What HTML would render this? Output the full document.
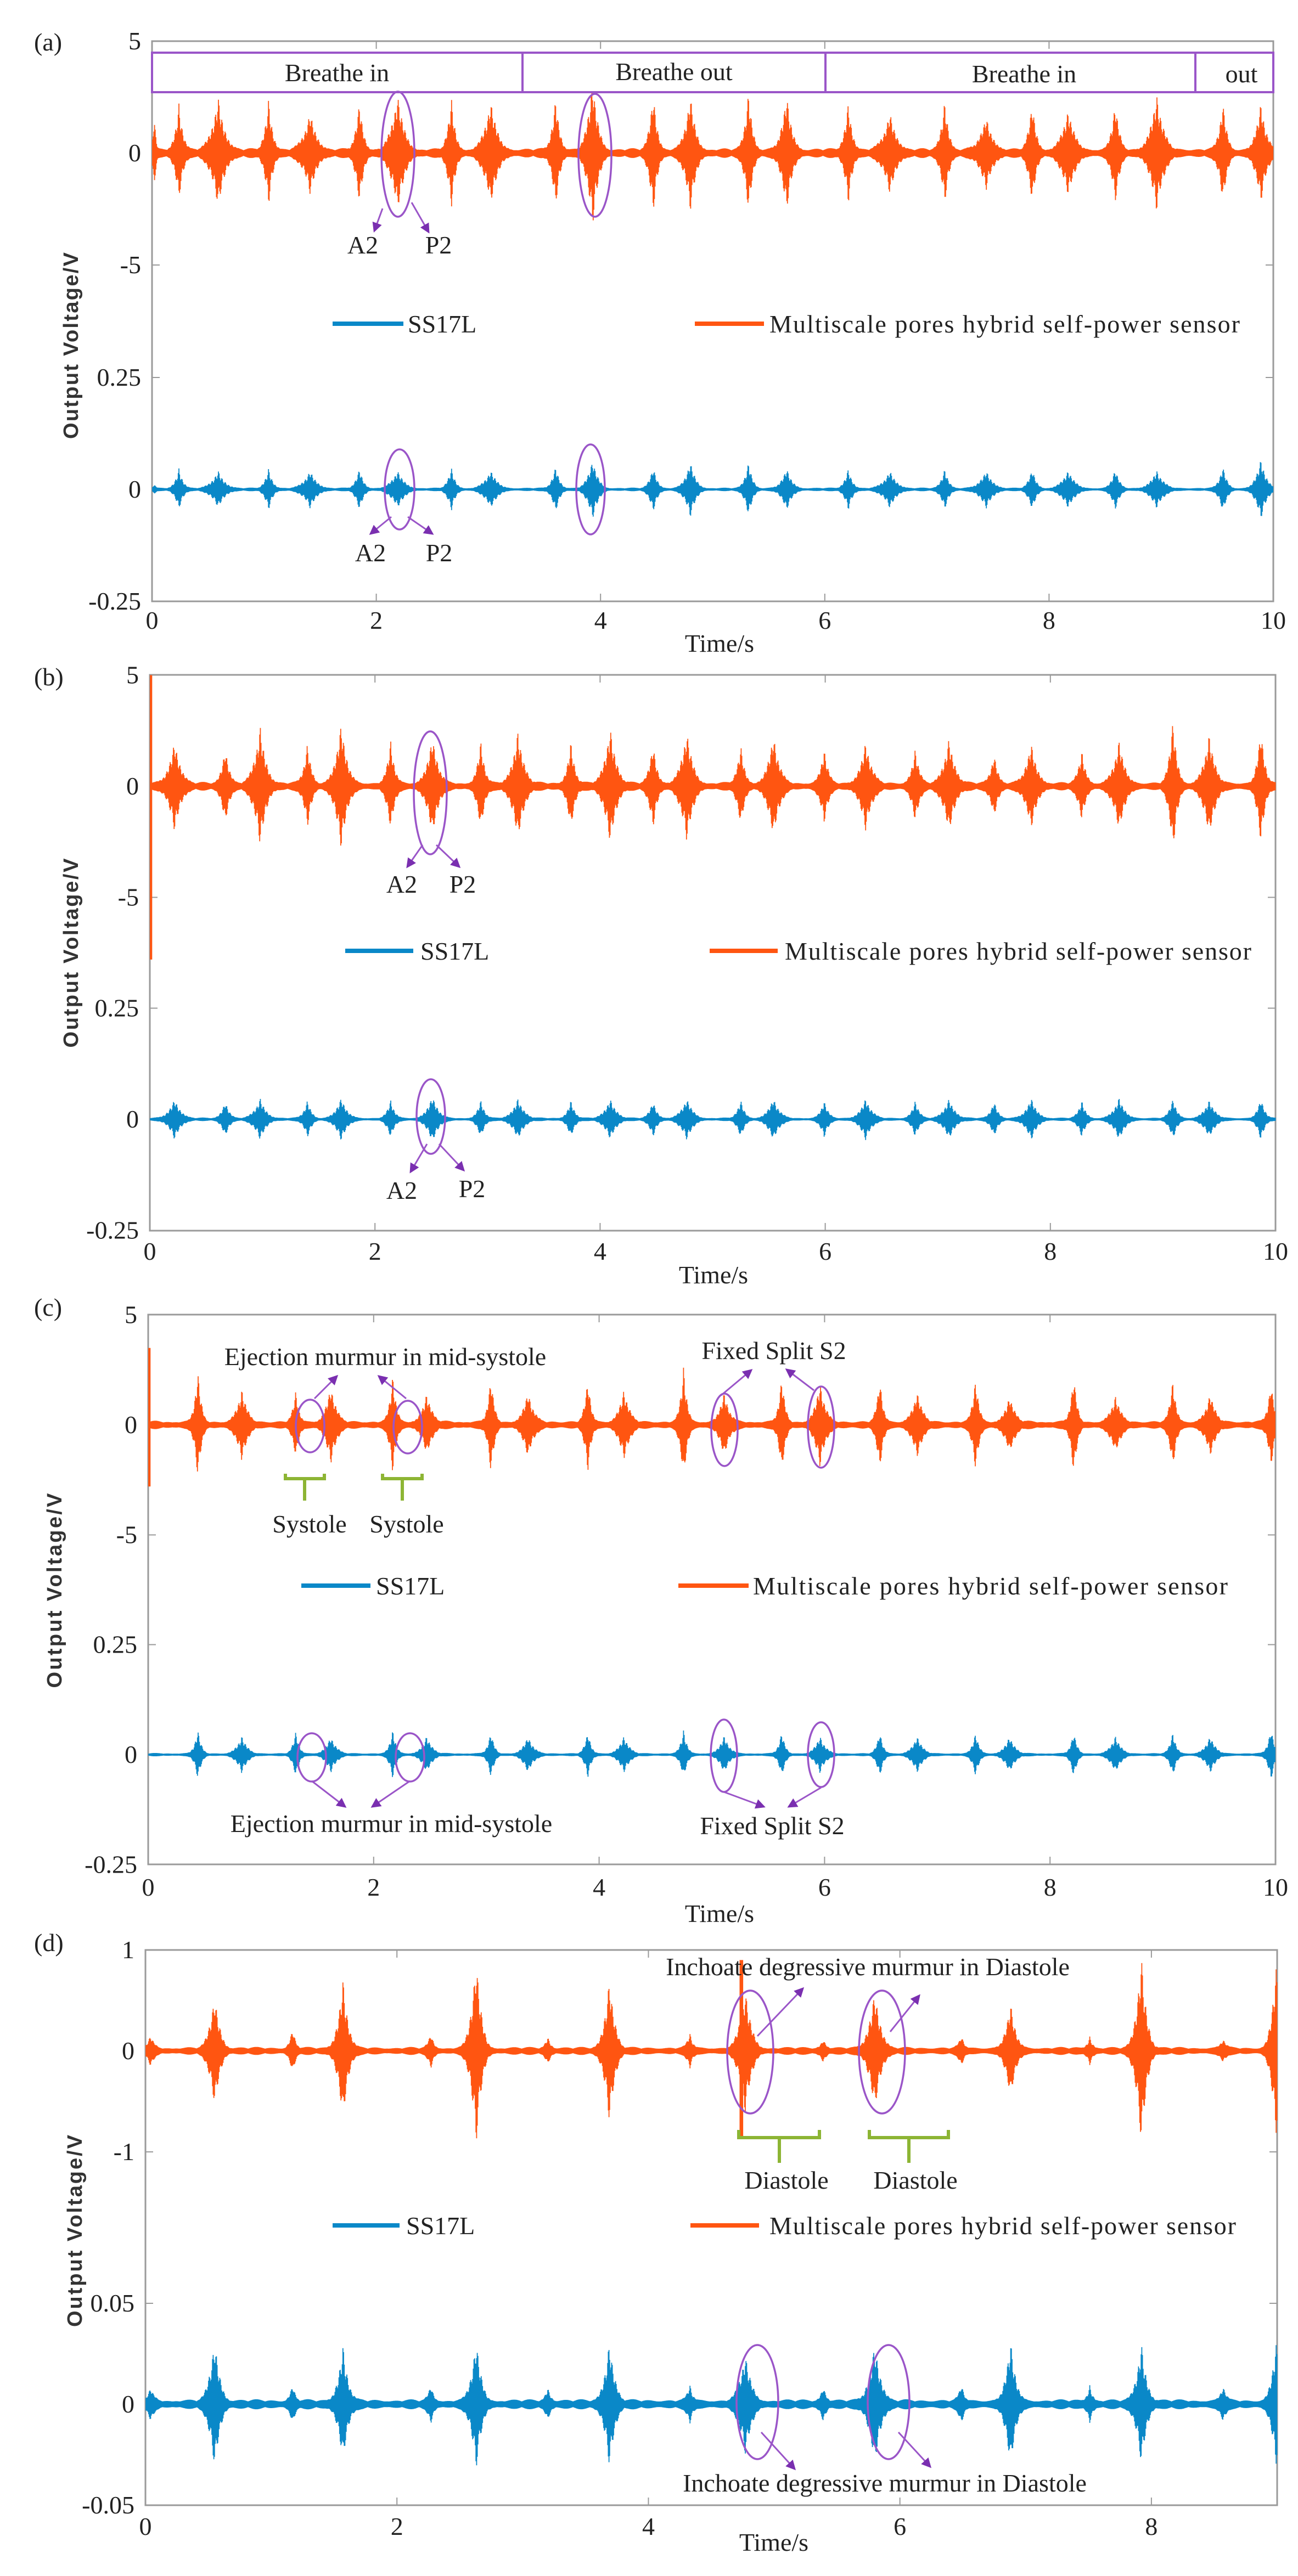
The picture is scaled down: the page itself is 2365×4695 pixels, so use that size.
<!DOCTYPE html>
<html><head><meta charset="utf-8"><title>Heart sound signals</title>
<style>
html,body{margin:0;padding:0;background:#fff;}
svg{display:block;}
text{font-family:"Liberation Serif",serif;fill:#222;}
.t{font-size:46px;}
.yt{font-family:"Liberation Sans",sans-serif;font-weight:bold;font-size:38px;fill:#333;}
</style></head>
<body>
<svg id="fig" width="2365" height="4695" viewBox="0 0 2365 4695" xmlns="http://www.w3.org/2000/svg">
<defs>
<marker id="ah" markerWidth="6" markerHeight="6" refX="5" refY="3" orient="auto" markerUnits="strokeWidth"><path d="M0,0 L6,3 L0,6 z" fill="#7a2fb0"/></marker>
</defs>
<g id="layer-axes"></g>
<g id="layer-signals"></g>

<text class="t" x="62" y="92">(a)</text>
<text class="t" x="62" y="1249">(b)</text>
<text class="t" x="62" y="2398">(c)</text>
<text class="t" x="62" y="3556">(d)</text>

<text class="yt" transform="translate(142,630) rotate(-90)" text-anchor="middle" textLength="340">Output Voltage/V</text>
<text class="yt" transform="translate(142,1737) rotate(-90)" text-anchor="middle" textLength="345">Output Voltage/V</text>
<text class="yt" transform="translate(112,2899) rotate(-90)" text-anchor="middle" textLength="355">Output Voltage/V</text>
<text class="yt" transform="translate(149,4066) rotate(-90)" text-anchor="middle" textLength="350">Output Voltage/V</text>

<text class="t" x="1311" y="1188" text-anchor="middle">Time/s</text>
<text class="t" x="1300" y="2339" text-anchor="middle">Time/s</text>
<text class="t" x="1311" y="3503" text-anchor="middle">Time/s</text>
<text class="t" x="1410" y="4649" text-anchor="middle">Time/s</text>

<g>
<line x1="606" y1="590" x2="735" y2="590" stroke="#0a88c8" stroke-width="8"/>
<text class="t" x="743" y="606">SS17L</text>
<line x1="1266" y1="590" x2="1392" y2="590" stroke="#ff5511" stroke-width="8"/>
<text class="t" x="1402" y="606" textLength="857">Multiscale pores hybrid self-power sensor</text>
</g>
<g>
<line x1="629" y1="1733" x2="753" y2="1733" stroke="#0a88c8" stroke-width="8"/>
<text class="t" x="766" y="1749">SS17L</text>
<line x1="1293" y1="1733" x2="1417" y2="1733" stroke="#ff5511" stroke-width="8"/>
<text class="t" x="1430" y="1749" textLength="850">Multiscale pores hybrid self-power sensor</text>
</g>
<g>
<line x1="549" y1="2890" x2="675" y2="2890" stroke="#0a88c8" stroke-width="8"/>
<text class="t" x="685" y="2906">SS17L</text>
<line x1="1236" y1="2890" x2="1364" y2="2890" stroke="#ff5511" stroke-width="8"/>
<text class="t" x="1372" y="2906" textLength="865">Multiscale pores hybrid self-power sensor</text>
</g>
<g>
<line x1="606" y1="4056" x2="728" y2="4056" stroke="#0a88c8" stroke-width="8"/>
<text class="t" x="740" y="4072">SS17L</text>
<line x1="1258" y1="4056" x2="1383" y2="4056" stroke="#ff5511" stroke-width="8"/>
<text class="t" x="1402" y="4072" textLength="850">Multiscale pores hybrid self-power sensor</text>
</g>

<g fill="none" stroke="#9a55c8" stroke-width="4">
<rect x="277" y="96" width="2043" height="72"/>
<line x1="952" y1="96" x2="952" y2="168"/>
<line x1="1504" y1="96" x2="1504" y2="168"/>
<line x1="2178" y1="96" x2="2178" y2="168"/>
</g>
<text class="t" x="614" y="148" text-anchor="middle">Breathe in</text>
<text class="t" x="1228" y="146" text-anchor="middle">Breathe out</text>
<text class="t" x="1866" y="150" text-anchor="middle">Breathe in</text>
<text class="t" x="2262" y="150" text-anchor="middle">out</text>

<g fill="none" stroke="#9a55c8" stroke-width="3.5">
<ellipse cx="725" cy="281" rx="30" ry="114"/>
<ellipse cx="1084" cy="283" rx="30" ry="112"/>
<ellipse cx="728" cy="892" rx="27" ry="73"/>
<ellipse cx="1076" cy="892" rx="26" ry="82"/>
<ellipse cx="784" cy="1445" rx="30" ry="112"/>
<ellipse cx="785" cy="2035" rx="26" ry="68"/>
<ellipse cx="565" cy="2599" rx="26" ry="48"/>
<ellipse cx="743" cy="2601" rx="26" ry="48"/>
<ellipse cx="1320" cy="2606" rx="24" ry="66"/>
<ellipse cx="1496" cy="2601" rx="24" ry="74"/>
<ellipse cx="568" cy="3203" rx="26" ry="44"/>
<ellipse cx="747" cy="3203" rx="26" ry="44"/>
<ellipse cx="1319" cy="3200" rx="24" ry="66"/>
<ellipse cx="1496" cy="3198" rx="24" ry="59"/>
<ellipse cx="1367" cy="3740" rx="42" ry="112"/>
<ellipse cx="1607" cy="3740" rx="42" ry="112"/>
<ellipse cx="1380" cy="4378" rx="38" ry="104"/>
<ellipse cx="1619" cy="4378" rx="38" ry="104"/>
</g>
<g fill="none" stroke="#9a55c8" stroke-width="3" marker-end="url(#ah)">
<line x1="697" y1="380" x2="682" y2="421"/>
<line x1="750" y1="369" x2="781" y2="423"/>
<line x1="713" y1="942" x2="675" y2="973"/>
<line x1="743" y1="942" x2="788" y2="973"/>
<line x1="770" y1="1540" x2="742" y2="1580"/>
<line x1="795" y1="1540" x2="837" y2="1580"/>
<line x1="778" y1="2085" x2="748" y2="2136"/>
<line x1="800" y1="2085" x2="845" y2="2133"/>
<line x1="573" y1="2549" x2="614" y2="2508"/>
<line x1="740" y1="2549" x2="690" y2="2508"/>
<line x1="1314" y1="2543" x2="1369" y2="2497"/>
<line x1="1483" y1="2534" x2="1433" y2="2496"/>
<line x1="568" y1="3246" x2="629" y2="3293"/>
<line x1="747" y1="3246" x2="678" y2="3293"/>
<line x1="1319" y1="3266" x2="1392" y2="3293"/>
<line x1="1496" y1="3258" x2="1437" y2="3293"/>
<line x1="1380" y1="3711" x2="1463" y2="3624"/>
<line x1="1622" y1="3703" x2="1675" y2="3637"/>
<line x1="1387" y1="4433" x2="1448" y2="4500"/>
<line x1="1637" y1="4433" x2="1695" y2="4496"/>
</g>
<g class="t" text-anchor="middle">
<text class="t" x="661" y="462">A2</text>
<text class="t" x="799" y="462">P2</text>
<text class="t" x="675" y="1023">A2</text>
<text class="t" x="800" y="1023">P2</text>
<text class="t" x="732" y="1627">A2</text>
<text class="t" x="843" y="1627">P2</text>
<text class="t" x="732" y="2185">A2</text>
<text class="t" x="860" y="2182">P2</text>
<text class="t" x="702" y="2488">Ejection murmur in mid-systole</text>
<text class="t" x="1410" y="2477">Fixed Split S2</text>
<text class="t" x="564" y="2793">Systole</text>
<text class="t" x="741" y="2793">Systole</text>
<text class="t" x="713" y="3339">Ejection murmur in mid-systole</text>
<text class="t" x="1407" y="3343">Fixed Split S2</text>
<text class="t" x="1581" y="3600">Inchoate degressive murmur in Diastole</text>
<text class="t" x="1433" y="3989">Diastole</text>
<text class="t" x="1668" y="3989">Diastole</text>
<text class="t" x="1612" y="4541">Inchoate degressive murmur in Diastole</text>
</g>
<g fill="none" stroke="#8db534" stroke-width="6">
<path d="M520,2686 V2695 H591 V2686 M555,2695 V2735"/>
<path d="M697,2686 V2695 H769 V2686 M733,2695 V2735"/>
<path d="M1346,3882 V3896 H1493 V3882 M1420,3896 V3942"/>
<path d="M1584,3882 V3896 H1728 V3882 M1656,3896 V3942"/>
</g>
</svg>
<script>
// ---------- data: burst times (s), peak amplitudes (V), durations (s) ----------
const aOrangeTimes=[0.02,0.24,0.59,1.04,1.41,1.85,2.19,2.67,3.02,3.6,3.93,4.47,4.80,5.32,5.66,6.21,6.58,7.07,7.44,7.85,8.17,8.59,8.96,9.55,9.89];
const aOrangeAmps=[1.8,2.1,2.4,2.3,1.7,2.2,2.5,2.3,2.2,2.4,3.2,2.7,2.5,2.7,2.5,2.2,1.7,2.3,1.5,2.2,1.8,2.2,2.5,2.2,2.1];
const aBlueAmps=[0.01,0.045,0.04,0.045,0.04,0.045,0.04,0.045,0.04,0.05,0.065,0.05,0.06,0.06,0.045,0.045,0.04,0.045,0.04,0.045,0.04,0.045,0.04,0.05,0.065];
const aWidths=[0.02,0.06,0.1,0.06,0.1,0.06,0.1,0.06,0.1,0.06,0.08,0.06,0.08,0.06,0.08,0.06,0.1,0.06,0.1,0.06,0.1,0.06,0.1,0.06,0.08];

const bOrangeTimes=[0.22,0.67,0.98,1.4,1.7,2.14,2.51,2.94,3.27,3.74,4.09,4.47,4.77,5.25,5.54,5.99,6.36,6.8,7.1,7.5,7.83,8.28,8.61,9.09,9.41,9.87];
const bOrangeAmps=[2.0,1.7,2.6,1.8,2.7,1.9,2.1,1.9,2.4,1.9,2.6,1.9,2.4,1.7,2.2,1.6,1.9,1.6,2.1,1.4,1.8,1.5,1.9,3.0,2.2,2.5];
const bBlueAmps=[0.045,0.04,0.045,0.04,0.045,0.04,0.05,0.04,0.045,0.04,0.045,0.04,0.045,0.04,0.045,0.04,0.045,0.04,0.045,0.04,0.045,0.04,0.045,0.045,0.04,0.045];
const bWidths=[0.09,0.06,0.09,0.06,0.09,0.06,0.09,0.06,0.09,0.06,0.09,0.06,0.09,0.06,0.09,0.06,0.09,0.06,0.09,0.06,0.09,0.06,0.09,0.06,0.09,0.06];
const bSpike=[0.004,5.0,-7.8];

const cOrangeTimes=[0.44,0.83,1.31,1.62,2.17,2.47,3.04,3.37,3.9,4.22,4.75,5.11,5.62,5.96,6.49,6.82,7.34,7.64,8.21,8.58,9.09,9.42,9.96];
const cOrangeAmps=[2.4,1.5,1.4,1.7,2.2,1.3,2.1,1.4,2.0,1.5,2.6,1.3,2.1,1.8,2.0,1.4,2.1,1.2,2.2,1.2,2.0,1.3,1.9];
const cBlueAmps=[0.055,0.04,0.05,0.04,0.055,0.04,0.05,0.04,0.05,0.04,0.055,0.04,0.05,0.04,0.05,0.04,0.05,0.04,0.05,0.04,0.05,0.04,0.06];
const cWidths=[0.05,0.08,0.05,0.08,0.05,0.08,0.05,0.08,0.05,0.08,0.05,0.08,0.05,0.08,0.05,0.08,0.05,0.08,0.05,0.08,0.05,0.08,0.05];
const cSpike=[0.004,3.5,-2.8];

const dOrangeTimes=[0.04,0.55,1.17,1.57,2.27,2.63,3.2,3.69,4.33,4.77,5.39,5.8,6.49,6.88,7.51,7.92,8.57,8.99];
const dOrangeAmps=[0.12,0.55,0.2,0.7,0.15,0.92,0.12,0.72,0.15,0.6,0.1,0.6,0.12,0.45,0.12,0.95,0.1,0.85];
const dBlueAmps=[0.006,0.032,0.008,0.028,0.008,0.031,0.007,0.031,0.008,0.024,0.008,0.03,0.008,0.03,0.008,0.03,0.008,0.03];
const dWidths=[0.05,0.07,0.04,0.07,0.04,0.07,0.04,0.07,0.04,0.08,0.04,0.08,0.04,0.07,0.04,0.07,0.04,0.06];
const dSpike=[4.74,0.9,-0.85];

// ---------- tick labels ----------
const xTicks10=[0,2,4,6,8,10];
const xTicks9=[0,2,4,6,8];
const yTicksOrangeA=[5,0,-5];
const yTicksBlueA=[0.25,0,-0.25];
const yTicksOrangeD=[1,0,-1];
const yTicksBlueD=[0.05,0,-0.05];

const NS="http://www.w3.org/2000/svg";
const axesLayer=document.getElementById('layer-axes');
const sigLayer=document.getElementById('layer-signals');

function mk(tag,attrs,parent){const e=document.createElementNS(NS,tag);for(const k in attrs)e.setAttribute(k,attrs[k]);parent.appendChild(e);return e;}

const panels=[
 {id:'a',x0:277,x1:2320,top:75,bottom:1096,tmax:10,xt:xTicks10,xl:1146,
  o:{zero:279,scale:40.8,ticks:yTicksOrangeA,times:aOrangeTimes,amps:aOrangeAmps,widths:aWidths,noise:0.22,spike:null},
  b:{zero:892,scale:816,ticks:yTicksBlueA,times:aOrangeTimes,amps:aBlueAmps,widths:aWidths,noise:0.004,spike:null}},
 {id:'b',x0:273,x1:2324,top:1230,bottom:2243,tmax:10,xt:xTicks10,xl:2296,
  o:{zero:1433,scale:40.5,ticks:yTicksOrangeA,times:bOrangeTimes,amps:bOrangeAmps,widths:bWidths,noise:0.2,spike:bSpike},
  b:{zero:2040,scale:810,ticks:yTicksBlueA,times:bOrangeTimes,amps:bBlueAmps,widths:bWidths,noise:0.004,spike:null}},
 {id:'c',x0:270,x1:2324,top:2396,bottom:3398,tmax:10,xt:xTicks10,xl:3455,
  o:{zero:2597,scale:40.1,ticks:yTicksOrangeA,times:cOrangeTimes,amps:cOrangeAmps,widths:cWidths,noise:0.2,spike:cSpike},
  b:{zero:3198,scale:802,ticks:yTicksBlueA,times:cOrangeTimes,amps:cBlueAmps,widths:cWidths,noise:0.004,spike:null}},
 {id:'d',x0:265,x1:2327,top:3554,bottom:4566,tmax:9,xt:xTicks9,xl:4620,
  o:{zero:3738,scale:184,ticks:yTicksOrangeD,times:dOrangeTimes,amps:dOrangeAmps,widths:dWidths,noise:0.04,spike:dSpike},
  b:{zero:4382,scale:3680,ticks:yTicksBlueD,times:dOrangeTimes,amps:dBlueAmps,widths:dWidths,noise:0.0025,spike:null}}
];

function envelope(s,t){
  let env=0;
  for(let i=0;i<s.times.length;i++){
    const u=Math.abs(t-s.times[i])/s.widths[i];
    if(u<8){const v=s.amps[i]*(0.55*Math.exp(-3.5*u)+0.45*Math.exp(-1.1*u*u));if(v>env)env=v;}
  }
  return env;
}

panels.forEach(p=>{
  const X=t=>p.x0+(p.x1-p.x0)*t/p.tmax;
  const g=mk('g',{},axesLayer);
  
  
  const box=mk('rect',{x:p.x0,y:p.top,width:p.x1-p.x0,height:p.bottom-p.top,fill:'none',stroke:'#9a9a9a','stroke-width':3},g);
  
  
  p.xt.forEach(v=>{
    const x=X(v);
    const t1=mk('path',{d:`M${x},${p.top} v14 M${x},${p.bottom} v-14`,stroke:'#9a9a9a','stroke-width':2,fill:'none'},g);
    
    
    const l=mk('text',{x:x,y:p.xl,'text-anchor':'middle',class:'t'},g);
    l.textContent=String(v);
    
    
  });
  [p.o,p.b].forEach(s=>{
    s.ticks.forEach(v=>{
      const y=s.zero-v*s.scale;
      const tk=mk('path',{d:`M${p.x0},${y} h14 M${p.x1},${y} h-14`,stroke:'#9a9a9a','stroke-width':2,fill:'none'},g);
      
      
      const l=mk('text',{x:p.x0-20,y:y+15,'text-anchor':'end',class:'t'},g);
      l.textContent=String(v);
      
      
    });
  });
  [['o','#ff5511','hybrid-sensor-signal'],['b','#0a88c8','ss17l-signal']].forEach(([k,col,nm])=>{
    const s=p[k];
    let d='';
    for(let x=p.x0+1;x<p.x1;x+=1.2){
      const t=(x-p.x0)/(p.x1-p.x0)*p.tmax;
      const env=envelope(s,t);
      const nz=s.noise*(0.55+0.45*Math.abs(Math.sin(t*23.1)*Math.cos(t*7.3)));
      let up=nz+env*(0.8+0.2*Math.sin(t*211.7+1.3));
      let dn=nz+env*(0.8+0.2*Math.cos(t*173.9+0.4));
      if(s.spike){const du=Math.abs(t-s.spike[0])*(p.x1-p.x0)/p.tmax;if(du<3){up=Math.max(up,s.spike[1]);dn=Math.max(dn,-s.spike[2]);}}
      d+=`M${x.toFixed(1)},${(s.zero-up*s.scale).toFixed(1)}V${(s.zero+dn*s.scale).toFixed(1)}`;
    }
    const path=mk('path',{d:d,stroke:col,'stroke-width':1.8,fill:'none'},sigLayer);
    
    
  });
});
</script>
</body></html>
